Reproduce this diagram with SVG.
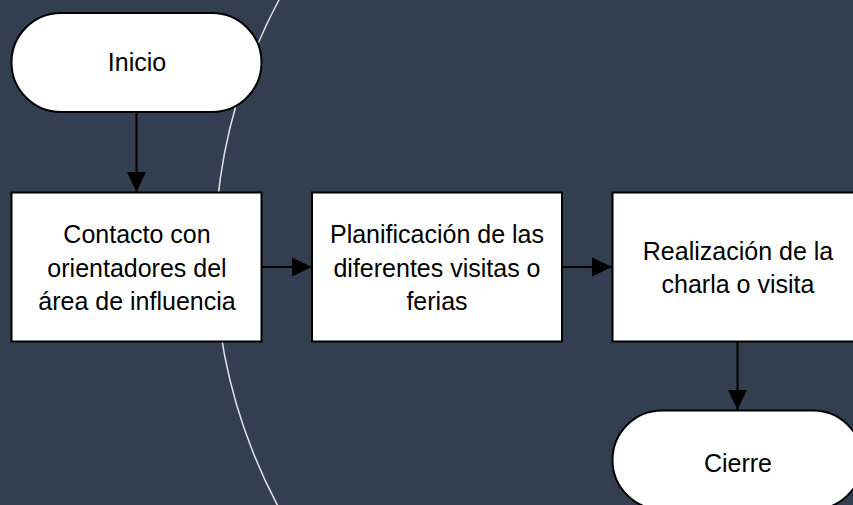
<svg xmlns="http://www.w3.org/2000/svg" width="853" height="505" viewBox="0 0 853 505">
<style>
.shape{fill:#ffffff;stroke:#000000;stroke-width:2}
.lbl{font-family:"Liberation Sans",Arial,sans-serif;font-size:25px;fill:#000000;text-anchor:middle}
.conn{stroke:#000000;stroke-width:2;fill:none;marker-end:url(#arr)}
</style>
<defs>
<marker id="arr" markerUnits="userSpaceOnUse" markerWidth="20" markerHeight="20" viewBox="0 0 20 20" refX="20" refY="10" orient="auto">
<path d="M0,0.5 L20,10 L0,19.5 Z" fill="#000000"/>
</marker>
</defs>
<rect x="0" y="0" width="853" height="505" fill="#333f50"/>
<circle cx="751" cy="254" r="536" fill="none" stroke="#dfe3ea" stroke-width="1.5"/>
<g id="connectors">
<line class="conn" x1="136.5" y1="112" x2="136.5" y2="192"/>
<line class="conn" x1="262" y1="267" x2="312" y2="267"/>
<line class="conn" x1="562" y1="267" x2="612" y2="267"/>
<line class="conn" x1="737.5" y1="342" x2="737.5" y2="410"/>
</g>
<g id="inicio">
<rect class="shape" x="11.5" y="13" width="250" height="99" rx="49.5" ry="49.5"/>
<text class="lbl" x="137" y="71">Inicio</text>
</g>
<g id="contacto">
<rect class="shape" x="11.5" y="192.5" width="250" height="149"/>
<text class="lbl" x="137" y="243">Contacto con</text>
<text class="lbl" x="137" y="277">orientadores del</text>
<text class="lbl" x="137" y="310">área de influencia</text>
</g>
<g id="planificacion">
<rect class="shape" x="312" y="192.5" width="250" height="149"/>
<text class="lbl" x="437" y="243">Planificación de las</text>
<text class="lbl" x="437" y="277">diferentes visitas o</text>
<text class="lbl" x="437" y="310">ferias</text>
</g>
<g id="realizacion">
<rect class="shape" x="612.5" y="192.5" width="250" height="149"/>
<text class="lbl" x="738" y="260">Realización de la</text>
<text class="lbl" x="738" y="293">charla o visita</text>
</g>
<g id="cierre">
<rect class="shape" x="612.5" y="410.5" width="250" height="99" rx="49.5" ry="49.5"/>
<text class="lbl" x="738" y="472">Cierre</text>
</g>
</svg>
